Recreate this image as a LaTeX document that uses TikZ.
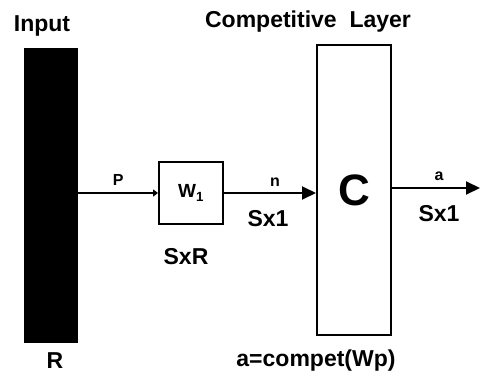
\documentclass[tikz,border=0pt]{standalone}
\usepackage{fontspec}
\setmainfont{Liberation Sans}
\usetikzlibrary{arrows.meta, positioning, calc}

\begin{document}
\begin{tikzpicture}[x=1pt, y=-1pt,
    lbl/.style={font=\fontsize{23}{25}\selectfont\bfseries, inner sep=0pt},
    small/.style={font=\fontsize{16}{18}\selectfont\bfseries, inner sep=0pt},
    box/.style={draw, line width=2pt, inner sep=0pt}]
    \useasboundingbox (0,0) rectangle (481,374);
    % input
    \node[fill=black, minimum width=54pt, minimum height=295pt, inner sep=0pt] (bar) at (51,195.5) {};
    \node[lbl] (inp) at (42,26) {Input};
    \node[lbl] (rdim) at (55,361) {R};
    % weights
    \node[box, minimum width=64pt, minimum height=62pt] (wbox) at (191,193) {\fontsize{19}{21}\selectfont\bfseries W$_{\mathbf 1}$};
    \node[lbl] (wdim) at (186,257) {SxR};
    % competitive layer
    \node[box, minimum width=74pt, minimum height=290pt] (cbox) at (354,190) {\fontsize{44}{46}\selectfont\bfseries C};
    \node[lbl] (title) at (308,22) {Competitive\ \ Layer};
    \node[lbl] (func) at (316,361) {a=compet(Wp)};
    \coordinate (out) at (480,188);
    % connectors
    \draw[line width=2pt, -{Triangle[length=5pt, width=7pt]}] (bar.east |- wbox.west) -- node[small, above=7pt] (plbl) {P} (wbox.west);
    \draw[line width=2pt, -{Triangle[length=14pt, width=13pt]}] (wbox.east) -- node[small, above=6pt, xshift=5pt] (nlbl) {n} node[lbl, below=16pt, xshift=-2pt] (ndim) {Sx1} (cbox.west |- wbox.east);
    \draw[line width=2pt, -{Triangle[length=14pt, width=13pt]}] (cbox.east |- out) -- node[small, above=6pt, xshift=3pt] (albl) {a} node[lbl, below=16pt, xshift=3pt] (adim) {Sx1} (out);
\end{tikzpicture}
\end{document}
